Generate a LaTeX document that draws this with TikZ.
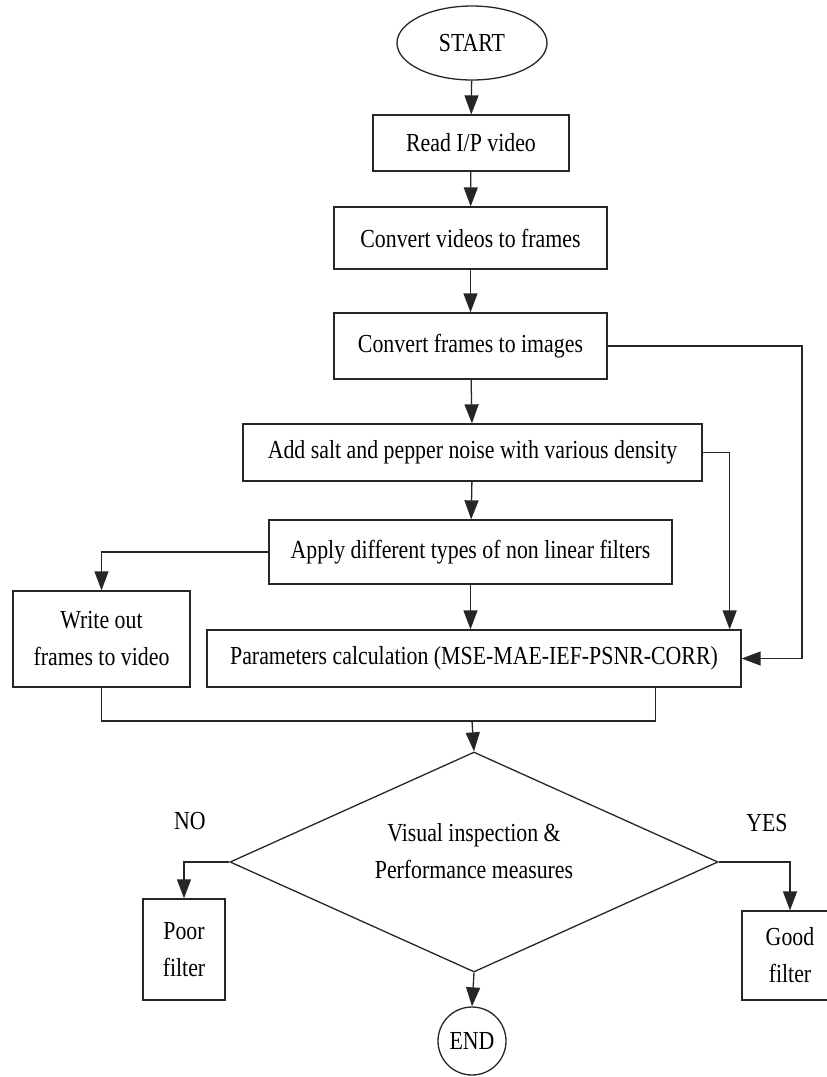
\documentclass[tikz,border=0pt]{standalone}
\usepackage{fontspec}
\setmainfont{Liberation Serif}[FakeStretch=0.84]
\usepackage{tikz}
\usetikzlibrary{shapes,arrows.meta,positioning,calc}

\begin{document}
\begin{tikzpicture}[x=1pt,y=-1pt,
    every node/.style={font=\fontsize{26}{37}\selectfont, align=center, inner sep=0pt},
    procbox/.style={draw=black!85, rectangle, line width=1.3pt},
    terminal/.style={draw=black!85, ellipse, line width=1.3pt},
    decision/.style={draw=black!85, diamond, line width=1.3pt},
    flow/.style={draw=black!85, line width=1.3pt, -{Triangle[length=19pt,width=14pt]}},
    link/.style={draw=black!85, line width=1.3pt}
]
    \useasboundingbox (0,0) rectangle (827,1077);
    \clip (0,0) rectangle (827,1077);

    % Main chain
    \node[terminal, minimum width=150pt, minimum height=74pt] (start) at (472,43) {START};
    \node[procbox, minimum width=196pt, minimum height=56pt] (readvid) at (471,143) {Read I/P video};
    \node[procbox, minimum width=273pt, minimum height=62pt] (vidframes) at (470.5,238) {Convert videos to frames};
    \node[procbox, minimum width=273pt, minimum height=66pt] (frameimg) at (470.5,346) {Convert frames to images};
    \node[procbox, minimum width=459pt, minimum height=57pt] (addnoise) at (472.5,452.5) {Add salt and pepper noise with various density};
    \node[procbox, minimum width=403pt, minimum height=64pt] (applyflt) at (470.5,552) {Apply different types of non linear filters};
    \node[procbox, minimum width=177pt, minimum height=96pt] (writeout) at (101.5,639) {Write out\\frames to video};
    \node[procbox, minimum width=534pt, minimum height=57pt] (params) at (474,658.5) {Parameters calculation (MSE-MAE-IEF-PSNR-CORR)};

    % Decision and results
    \node[decision, minimum width=488pt, minimum height=220pt] (inspect) at (474,862) {};
    \node (inspectlbl) at ([yshift=11pt]inspect.center) {Visual inspection \&\\Performance measures};
    \node[procbox, minimum width=82pt, minimum height=101pt] (poor) at (184,949.5) {Poor\\filter};
    \node[procbox, minimum width=96pt, minimum height=89pt] (good) at (790,955.5) {Good\\filter};
    \node[terminal, minimum width=68pt, minimum height=68pt] (finish) at (472,1041) {END};
    \node (nolbl) at (190,821) {NO};
    \node (yeslbl) at (767,823) {YES};

    % Connectors
    \draw[flow] (start) -- (readvid);
    \draw[flow] (readvid) -- (vidframes);
    \draw[flow] (vidframes) -- (frameimg);
    \draw[flow] (frameimg) -- (addnoise);
    \draw[flow] (addnoise) -- (applyflt);
    \draw[flow] (applyflt.south) -- (applyflt.south |- params.north);
    \draw[flow] (applyflt.west) -| (writeout.north);
    \coordinate (bypass) at (802,346);
    \draw[flow] (frameimg.east) -- (bypass) |- (params.east);
    \draw[flow] (addnoise.east) -| ([xshift=-12pt]params.north east);
    \coordinate (merge) at (472,721);
    \draw[link] (writeout.south) |- (merge);
    \draw[link] ([xshift=-86pt]params.south east) |- (merge);
    \draw[flow] (merge) -- (inspect.north);
    \draw[flow] (inspect.west) -| (poor.north);
    \draw[flow] (inspect.east) -| (good.north);
    \draw[flow] (inspect.south) -- (finish.north);
\end{tikzpicture}
\end{document}
